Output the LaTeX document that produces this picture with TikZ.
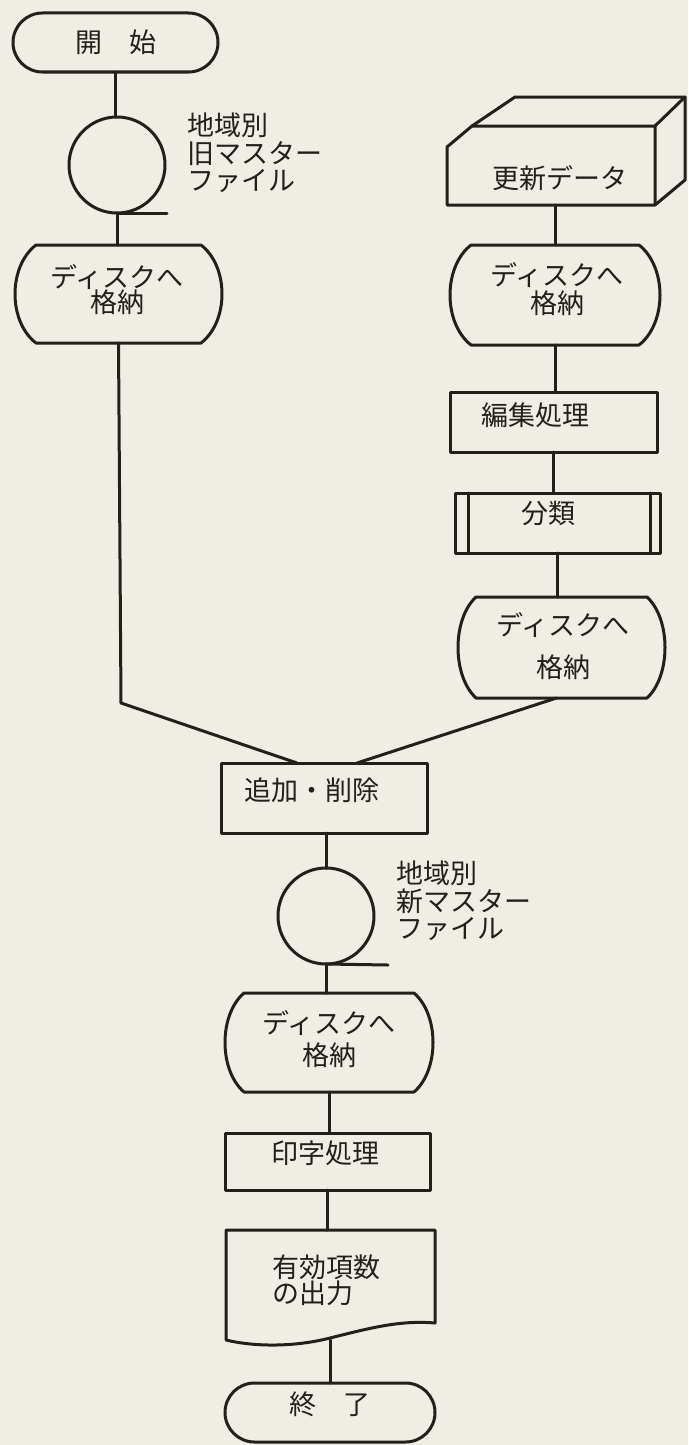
\documentclass[tikz,border=0pt]{standalone}
\usepackage{fontspec}
\setmainfont{Noto Sans CJK JP}
\usetikzlibrary{calc,shapes.misc}
\definecolor{paper}{RGB}{239,238,229}
\definecolor{ink}{RGB}{35,32,28}
\tikzset{
  ln/.style={draw=ink, line width=3pt, line join=round, line cap=round},
  txt/.style={text=ink, font=\fontsize{27}{28}\selectfont, inner sep=0pt, align=center},
  lbl/.style={txt, align=left, anchor=west},
  frame/.style={inner sep=0pt, outer sep=0pt, rectangle},
  procbox/.style={ln, frame},
  term/.style={ln, inner sep=0pt, outer sep=0pt, rounded rectangle, text=ink, font=\fontsize{27}{28}\selectfont},
  tape/.style={ln, inner sep=0pt, outer sep=0pt, circle},
}
\newcommand\diskout[2]{%
  \draw[ln] ($(#1.north west)+(#2,0)$) -- ($(#1.north east)+(-#2,0)$)
    .. controls ($(#1.north east)!0.22!(#1.south east)+(#2/3,0)$) and ($(#1.south east)!0.22!(#1.north east)+(#2/3,0)$) .. ($(#1.south east)+(-#2,0)$)
    -- ($(#1.south west)+(#2,0)$)
    .. controls ($(#1.south west)!0.22!(#1.north west)+(-#2/3,0)$) and ($(#1.north west)!0.22!(#1.south west)+(-#2/3,0)$) .. cycle;}
\begin{document}
\begin{tikzpicture}[x=1pt,y=-1pt]
\fill[paper] (0,0) rectangle (688,1445);
\useasboundingbox (0,0) rectangle (688,1445);

% ---- left column
\node[term, minimum width=205pt, minimum height=59pt] (start) at (115.5,42.5) {開　始};
\node[tape, minimum size=96pt] (c1) at (117,165) {};
\coordinate (c1t) at (167,213);
\node[lbl] (l1) at (187,153) {地域別\\[-0.5pt]旧マスター\\[-0.5pt]ファイル};
\node[frame, minimum width=207pt, minimum height=98pt] (d1) at (118.5,294) {};
\diskout{d1}{21}
\node[txt] (d1t) at (117,289.5) {ディスクへ\\[-3pt]格納};

% ---- right column
\node[frame, minimum width=208pt, minimum height=79pt] (card) at (551,165.5) {};
\draw[ln] (447,147) -- (472,126) -- (655,126) -- (655,205) -- (447,205) -- cycle;
\draw[ln] (472,126) -- (515,97) -- (685,97) -- (655,126);
\draw[ln] (685,97) -- (685,180) -- (655,205);
\node[txt] (cardt) at (560,178) {更新データ};

\node[frame, minimum width=210pt, minimum height=100pt] (d2) at (555,295) {};
\diskout{d2}{21}
\node[txt] (d2t) at (557,289) {ディスクへ\\格納};

\node[procbox, minimum width=207pt, minimum height=60pt] (edit) at (553.5,422) {};
\node[txt] (editt) at (535,415) {編集処理};

\node[procbox, minimum width=205pt, minimum height=60pt] (sort) at (557.5,523) {};
\draw[ln] ($(sort.north west)+(13,0)$) -- ($(sort.south west)+(13,0)$);
\draw[ln] ($(sort.north east)+(-10,0)$) -- ($(sort.south east)+(-10,0)$);
\node[txt] (sortt) at (548,513) {分類};

\node[frame, minimum width=207pt, minimum height=101pt] (d4) at (561.5,647.5) {};
\diskout{d4}{18}
\node[txt] (d4t) at (563,646) {ディスクへ\\[14pt]格納};

% ---- merge
\node[procbox, minimum width=206pt, minimum height=70pt] (add) at (324,798) {};
\node[txt] (addt) at (312,790) {追加・削除};
\coordinate (bendL) at (121,703);

\node[tape, minimum size=96pt] (c2) at (326,916) {};
\coordinate (c2t) at (388,965);
\node[lbl] (l2) at (396,901) {地域別\\[-0.5pt]新マスター\\[-0.5pt]ファイル};

\node[frame, minimum width=208pt, minimum height=99pt] (d3) at (329,1042.5) {};
\diskout{d3}{19}
\node[txt] (d3t) at (329,1039) {ディスクへ\\[4pt]格納};

\node[procbox, minimum width=205pt, minimum height=57pt] (print) at (327.5,1161.5) {};
\node[txt] (printt) at (325,1153) {印字処理};

\node[frame, minimum width=209pt, minimum height=110pt] (doc) at (330.5,1285) {};
\draw[ln] (226,1340) -- (226,1230) -- (435,1230) -- (435,1323)
  .. controls (400,1320) and (370,1328) .. (330,1338)
  .. controls (295,1347) and (255,1347) .. (226,1340);
\node[lbl] (doct) at (272,1280) {有効項数\\[-2pt]の出力};

\node[term, minimum width=210pt, minimum height=59pt] (end) at (330,1412.5) {};
\node[txt] (endt) at (330,1404) {終　了};

% ---- connectors
\draw[ln] (start.south) -- (start.south |- c1.north);
\draw[ln] (c1.south) -- (c1t);
\draw[ln] (c1.south) -- (c1.south |- d1.north);
\draw[ln] (d1.south) -- (bendL) -- ($(add.north)+(-27,0)$);
\draw[ln] (d2.north |- card.south) -- (d2.north);
\draw[ln] (d2.south) -- (d2.south |- edit.north);
\draw[ln] (edit.south) -- (edit.south |- sort.north);
\draw[ln] (sort.south) -- (sort.south |- d4.north);
\draw[ln] ($(d4.south)+(-5,0)$) -- ($(add.north)+(33,0)$);
\draw[ln] (c2.north |- add.south) -- (c2.north);
\draw[ln] (c2.south) -- (c2t);
\draw[ln] (c2.south) -- (c2.south |- d3.north);
\draw[ln] (d3.south) -- (d3.south |- print.north);
\draw[ln] (print.south) -- (print.south |- doc.north);
\draw[ln] (end.north |- doc.south) -- (end.north);
\end{tikzpicture}
\end{document}
